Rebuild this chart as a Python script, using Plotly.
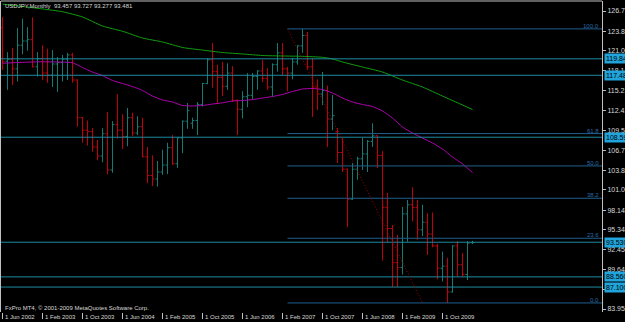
import plotly.graph_objects as go

# ---------------- data (monthly USDJPY bars, Jun 2002 .. Apr 2010) ----------------
bar_index = list(range(95))
opens = [124.3, 119.5, 119.8, 118.4, 121.8, 122.4, 122.6, 118.7, 119.9, 117.8,
         117.5, 119.1, 119.3, 119.8, 120.4, 116.8, 111.4, 109.6, 109.4, 107.2,
         105.9, 109.1, 103.9, 110.4, 109.6, 108.7, 111.4, 109.2, 110.1, 105.8,
         103.1, 102.6, 103.6, 104.6, 107.1, 104.8, 108.5, 110.9, 110.6, 111.0,
         113.3, 116.3, 119.7, 118.0, 117.2, 115.9, 117.8, 113.9, 112.6, 114.4,
         114.6, 117.3, 118.1, 117.0, 115.8, 119.0, 120.7, 118.4, 117.8, 119.4,
         121.7, 123.2, 118.7, 115.8, 114.8, 115.3, 111.2, 109.4, 106.4, 104.0,
         99.7, 104.0, 105.5, 106.2, 108.0, 108.8, 106.0, 98.5, 95.5, 90.6,
         89.9, 97.6, 98.9, 98.5, 95.3, 96.4, 94.7, 93.0, 89.8, 90.1,
         86.4, 93.0, 90.3, 88.9, 93.457]
highs = [125.85, 120.8, 121.4, 124.25, 125.6, 124.4, 125.8, 120.8, 121.8, 121.3,
         121.1, 120.1, 120.4, 120.7, 120.7, 116.9, 111.5, 111.0, 109.9, 108.2,
         109.9, 112.2, 110.9, 114.8, 111.9, 112.8, 112.1, 111.6, 111.4, 107.2,
         106.0, 105.2, 106.8, 107.8, 108.9, 108.6, 111.0, 113.5, 111.4, 113.65,
         116.4, 119.96, 122.1, 119.0, 119.4, 119.2, 118.8, 114.0, 115.2, 117.8,
         117.8, 118.2, 119.7, 118.5, 119.2, 122.1, 122.1, 118.7, 120.0, 121.8,
         124.14, 123.7, 119.96, 116.9, 117.95, 116.0, 114.65, 109.9, 108.5, 104.1,
         104.9, 105.8, 108.5, 108.2, 110.6, 108.9, 106.6, 100.6, 96.0, 94.6,
         98.6, 99.6, 101.4, 99.6, 98.9, 97.7, 97.8, 93.3, 92.2, 91.3,
         93.1, 93.7, 92.0, 93.7, 93.727]
lows = [118.25, 115.4, 116.1, 116.6, 120.5, 121.0, 118.6, 117.3, 116.8, 116.4,
        115.8, 115.1, 116.6, 116.8, 116.4, 110.1, 107.8, 107.4, 106.5, 105.3,
        105.0, 103.3, 103.5, 108.4, 106.9, 107.3, 108.8, 108.9, 105.7, 102.0,
        101.6, 101.5, 103.2, 103.3, 104.6, 104.2, 106.3, 109.8, 109.8, 108.9,
        113.0, 116.2, 115.7, 113.4, 114.5, 115.4, 113.65, 108.9, 111.3, 112.9,
        114.0, 115.4, 116.5, 115.4, 114.4, 118.0, 117.5, 115.2, 116.9, 119.0,
        120.7, 118.3, 111.5, 112.5, 113.2, 107.2, 109.6, 104.9, 103.6, 95.7,
        99.6, 102.5, 103.9, 103.6, 107.2, 104.2, 90.9, 93.5, 87.1, 87.1,
        88.9, 93.6, 96.5, 93.9, 94.4, 91.7, 92.8, 88.2, 87.9, 84.82,
        86.3, 88.6, 88.6, 88.1, 93.277]
closes = [119.5, 119.8, 118.4, 121.8, 122.4, 122.6, 118.7, 119.9, 117.8, 117.5,
          119.1, 119.3, 119.8, 120.4, 116.8, 111.4, 109.6, 109.4, 107.2, 105.9,
          109.1, 103.9, 110.4, 109.6, 108.7, 111.4, 109.2, 110.1, 105.8, 103.1,
          102.6, 103.6, 104.6, 107.1, 104.8, 108.5, 110.9, 112.4, 111.0, 113.3,
          116.3, 119.7, 118.0, 117.2, 115.9, 117.8, 113.9, 112.6, 114.4, 114.6,
          117.3, 118.1, 117.0, 115.8, 119.0, 120.7, 118.4, 117.8, 119.4, 121.7,
          123.2, 118.7, 115.8, 114.8, 115.3, 111.2, 111.7, 106.4, 104.0, 99.7,
          104.0, 105.5, 106.2, 108.0, 108.8, 106.0, 98.5, 95.5, 90.6, 89.9,
          97.6, 98.9, 98.5, 95.3, 96.4, 94.7, 93.0, 89.8, 90.1, 86.4,
          93.0, 90.3, 88.9, 93.4, 93.481]

# moving averages (bar index, price)
green_ma_index = [0, 4, 8, 12, 16, 20, 24, 28, 32, 36, 40, 44, 48, 52, 56, 60, 64, 66,
                  68, 72, 76, 80, 84, 88, 92, 94]
green_ma = [127.7, 127.35, 127.0, 126.6, 125.85, 124.55, 123.8, 122.83, 122.26, 121.47,
            121.1, 120.75, 120.54, 120.32, 120.25, 120.2, 120.06, 119.82, 119.39, 118.67,
            117.95, 116.8, 115.8, 114.5, 113.22, 112.57]
magenta_ma_index = [0, 4, 8, 12, 14, 16, 18, 20, 22, 24, 26, 28, 30, 32, 34, 36, 38, 40,
                    42, 44, 46, 48, 50, 52, 54, 56, 58, 60, 62, 64, 66, 68, 70, 72, 74,
                    76, 78, 80, 82, 84, 86, 88, 90, 92, 94]
magenta_ma = [119.21, 119.34, 119.42, 119.37, 119.29, 118.6, 117.95, 117.45, 116.73,
              116.3, 115.87, 115.3, 114.5, 113.94, 113.65, 113.15, 113.08, 113.15,
              113.36, 113.53, 113.79, 113.86, 114.0, 114.22, 114.44, 114.73, 115.16,
              115.51, 115.59, 115.44, 114.94, 114.22, 113.65, 113.29, 113.0, 112.36,
              111.35, 110.06, 109.2, 108.48, 107.77, 106.9, 105.76, 104.76, 103.53]

# horizontal levels with price tags
hline_prices = [119.845, 117.485, 108.595, 93.530, 88.560, 87.100]
hline_tags = ["119.845", "117.485", "108.595", "93.530", "88.560", "87.100"]

# Fibonacci retracement
fib_start_index = 57
fib_end_index = 84
fib_prices = [124.14, 109.12, 104.48, 99.84, 94.10, 84.82]
fib_labels = ["100.0", "61.8", "50.0", "38.2", "23.6", "0.0"]

# axis ticks
y_tick_vals = [126.705, 123.815, 121.010, 118.120, 115.230, 112.425, 109.535, 106.730,
               103.840, 101.035, 98.145, 95.340, 92.450, 89.645, 86.755, 83.950]
y_tick_text = ["126.705", "123.815", "121.010", "118.120", "115.230", "112.425", "109.535",
               "106.730", "103.840", "101.035", "98.145", "95.340", "92.450", "89.645",
               "86.755", "83.950"]
x_tick_vals = [0, 8, 16, 24, 32, 40, 48, 56, 64, 72, 80, 88]
x_tick_text = ["1 Jun 2002", "1 Feb 2003", "1 Oct 2003", "1 Jun 2004", "1 Feb 2005",
               "1 Oct 2005", "1 Jun 2006", "1 Feb 2007", "1 Oct 2007", "1 Jun 2008",
               "1 Feb 2009", "1 Oct 2009"]

header_text = "USDJPY,Monthly  93.457 93.727 93.277 93.481"
footer_text = "FxPro MT4, \u00a9 2001-2009 MetaQuotes Software Corp."

# ---------------- styling ----------------
FONT = "Liberation Sans, Arial, sans-serif"
FS = 6
UP = "#167a72"
DN = "#c0000a"
HLINE = "#1d8aa0"
FIBC = "#1f5f8f"
TXT = "#d8d8d8"

fig = go.Figure()
fig.add_trace(go.Ohlc(x=bar_index, open=opens, high=highs, low=lows, close=closes,
                      increasing=dict(line=dict(color=UP, width=1)),
                      decreasing=dict(line=dict(color=DN, width=1)),
                      tickwidth=0.4, hoverinfo="skip", showlegend=False))
fig.add_trace(go.Scatter(x=green_ma_index, y=green_ma, mode="lines",
                         line=dict(color="#10a010", width=1, shape="spline", smoothing=0.6),
                         hoverinfo="skip", showlegend=False))
fig.add_trace(go.Scatter(x=magenta_ma_index, y=magenta_ma, mode="lines",
                         line=dict(color="#b000b0", width=1, shape="spline", smoothing=0.6),
                         hoverinfo="skip", showlegend=False))

shapes = [dict(type="line", xref="paper", yref="paper", x0=0, x1=1, y0=1, y1=1,
               line=dict(color="#c0c0c0", width=1))]
for p in hline_prices:
    shapes.append(dict(type="line", xref="paper", x0=0, x1=1, yref="y", y0=p, y1=p,
                       line=dict(color=HLINE, width=1)))
for p in fib_prices:
    shapes.append(dict(type="line", xref="x", x0=fib_start_index, x1=119.9, yref="y",
                       y0=p, y1=p, line=dict(color=FIBC, width=1)))
shapes.append(dict(type="line", xref="x", yref="y", x0=fib_start_index, y0=fib_prices[0],
                   x1=fib_end_index, y1=fib_prices[-1],
                   line=dict(color="#a00000", width=1, dash="1px,2px")))

annotations = []
for p, t in zip(hline_prices, hline_tags):
    annotations.append(dict(xref="paper", x=1, xanchor="left", xshift=2, yref="y", y=p,
                            yanchor="middle", text=t, showarrow=False,
                            font=dict(family=FONT, size=7, color="#000000"),
                            bgcolor="#20a4dc", borderpad=1))
for p, t in zip(fib_prices, fib_labels):
    annotations.append(dict(xref="paper", x=1, xanchor="right", xshift=-1, yref="y", y=p,
                            yanchor="bottom", yshift=-2, text=t, showarrow=False,
                            font=dict(family=FONT, size=FS, color="#2a6aa8")))
for v, t in zip(x_tick_vals, x_tick_text):
    annotations.append(dict(xref="x", yref="paper", x=v, y=0, xanchor="left", yanchor="top",
                            xshift=0, yshift=0, text=t, showarrow=False,
                            font=dict(family=FONT, size=FS, color=TXT)))
annotations.append(dict(xref="paper", yref="paper", x=0, y=1, xanchor="left", yanchor="top",
                        xshift=2, yshift=0, text=header_text, showarrow=False,
                        font=dict(family=FONT, size=FS, color=TXT)))
annotations.append(dict(xref="paper", yref="paper", x=0, y=0, xanchor="left", yanchor="bottom",
                        xshift=2, yshift=-1, text=footer_text, showarrow=False,
                        font=dict(family=FONT, size=FS, color=TXT)))

fig.update_layout(
    width=625, height=322,
    margin=dict(l=1, r=23, t=1, b=10, pad=0),
    paper_bgcolor="#000000", plot_bgcolor="#000000",
    shapes=shapes, annotations=annotations,
    xaxis=dict(range=[-0.3, 119.9], showgrid=False, zeroline=False,
               rangeslider=dict(visible=False),
               tickvals=x_tick_vals, ticks="outside", ticklen=6, tickcolor="#c0c0c0",
               showticklabels=False, showline=False,
               automargin=False, fixedrange=True),
    yaxis=dict(range=[83.52, 128.14], side="right", showgrid=False, zeroline=False,
               tickvals=y_tick_vals, ticktext=y_tick_text, ticks="outside", ticklen=3,
               tickcolor="#c0c0c0", tickfont=dict(family=FONT, size=7, color=TXT),
               showline=True, linecolor="#c0c0c0", linewidth=1, mirror=True,
               automargin=False, fixedrange=True),
    showlegend=False,
)

fig.write_html("out.html", config={"displayModeBar": False})
